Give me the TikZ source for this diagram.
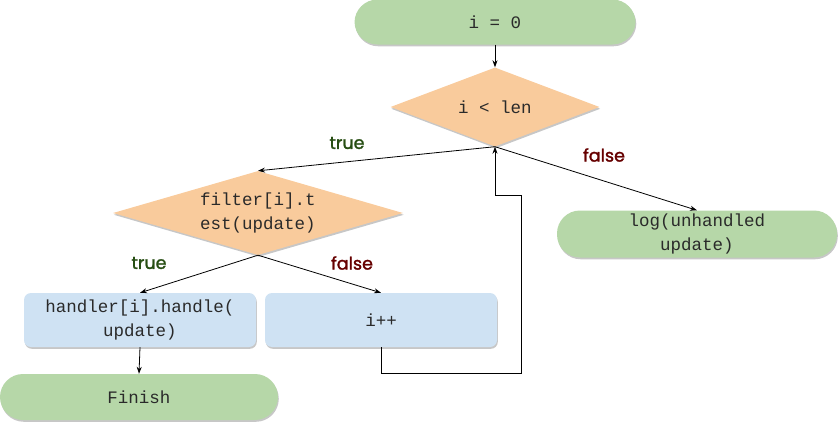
\documentclass[tikz,border=0pt]{standalone}
\usepackage{fontspec}
\setmonofont{Liberation Mono}
\newfontfamily\labelfont[FakeBold=1.6]{Poppins}
\usetikzlibrary{shapes.geometric,arrows.meta,shadows}
\definecolor{termgreen}{HTML}{B6D7A8}
\definecolor{decorange}{HTML}{F9CB9C}
\definecolor{procblue}{HTML}{CFE2F3}
\definecolor{yesgreen}{HTML}{274E13}
\definecolor{nored}{HTML}{660000}
\definecolor{inktext}{HTML}{2A2A2A}
\begin{document}
\begin{tikzpicture}[x=1pt,y=-1pt,
  base/.style={inner sep=0pt, align=center, text=inktext,
    font=\ttfamily\fontsize{17.5}{23.5}\selectfont,
    drop shadow={shadow xshift=0.8pt, shadow yshift=-1.8pt, opacity=0.22, fill=black}},
  terminal/.style={base, rectangle, rounded corners=23pt, fill=termgreen},
  decision/.style={base, diamond, fill=decorange},
  process/.style={base, rectangle, rounded corners=7pt, fill=procblue,
    minimum width=232pt, minimum height=54pt},
  flow/.style={draw=black, line width=0.8pt, -{Stealth[length=7pt,width=5pt]}},
  yes/.style={font=\labelfont\fontsize{17.5}{20}\selectfont, text=yesgreen},
  no/.style={font=\labelfont\fontsize{17.5}{20}\selectfont, text=nored}]
\useasboundingbox (0,0) rectangle (839,423);

% nodes
\node[terminal, minimum width=281pt, minimum height=45pt] (start) at (495,22) {i = 0};
\node[decision, minimum width=209pt, minimum height=79pt, aspect=2.65] (cond) at (495,107) {i < len};
\node[decision, minimum width=290pt, minimum height=84pt, aspect=3.45] (filt) at (258,213) {filter[i].t\\est(update)};
\node[terminal, minimum width=280pt, minimum height=47pt] (log) at (697,234) {log(unhandled\\update)};
\node[process] (hand) at (140,320) {handler[i].handle(\\update)};
\node[process] (inc) at (381,320) {i++};
\node[terminal, minimum width=278pt, minimum height=46pt] (fin) at (139,397) {Finish};

% branch labels
\node[yes] (t1) at (347,143) {true};
\node[no]  (f1) at (604,155) {false};
\node[yes] (t2) at (149,263) {true};
\node[no]  (f2) at (352,263) {false};

% loop-back route
\coordinate (lpa) at (521,373);
\coordinate (lpb) at (521,195);
\coordinate (lpc) at (495,195);

% connectors
\draw[flow] (start.south) -- (cond.north);
\draw[flow] (cond.south) -- (filt.north);
\draw[flow] (cond.south) -- (log.north);
\draw[flow] (filt.south) -- (hand.north);
\draw[flow] (filt.south) -- (inc.north);
\draw[flow] (hand.south) -- (fin.north);
\draw[flow] (inc.south) |- (lpa) -- (lpb) -- (lpc) -- (cond.south);
\end{tikzpicture}
\end{document}
